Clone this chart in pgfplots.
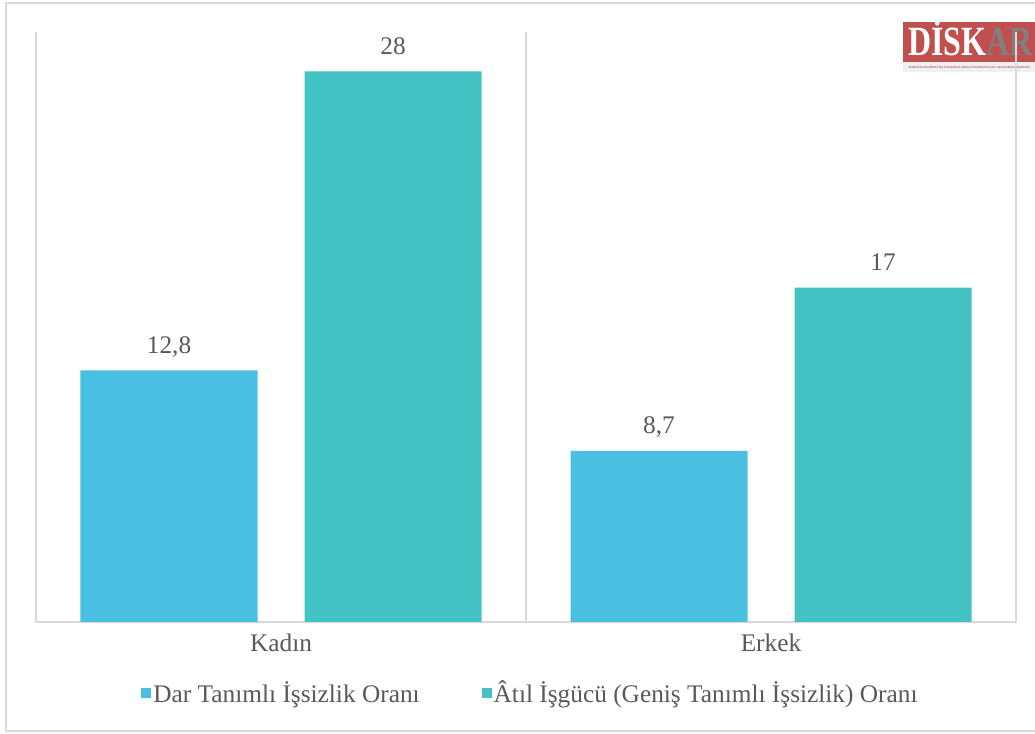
\documentclass[border=0pt]{standalone}
\usepackage{fontspec}
\setmainfont{Liberation Serif}
\usepackage{pgfplots}
\pgfplotsset{compat=1.18}
\definecolor{barblue}{RGB}{73,192,225}
\definecolor{barteal}{RGB}{67,195,196}
\definecolor{gridgray}{RGB}{217,217,217}
\definecolor{txtgray}{RGB}{89,89,89}
\definecolor{logored}{RGB}{192,80,77}
\definecolor{logogray}{RGB}{128,128,128}

\begin{document}
\begin{tikzpicture}
\useasboundingbox (0,0) rectangle (776.25pt,550.5pt);
% outer frame
\draw[gridgray, line width=1.5pt] (4.5pt,2.25pt) rectangle (800pt,548.25pt);
% logo
\fill[logored] (677.25pt,504pt) rectangle (800pt,534pt);
\fill[gray!12] (677.25pt,496.5pt) rectangle (800pt,504pt);
\node[anchor=base west, inner sep=0pt, text=white, yscale=1.3,
      font=\fontsize{24}{24}\selectfont\bfseries] at (681pt,508.5pt) {DİSK\textcolor{logogray}{AR}};
\node[anchor=west, inner sep=0pt, text=logored,
      font=\fontsize{2.2}{3}\selectfont\bfseries] at (681pt,500pt)
      {TÜRKİYE DEVRİMCİ İŞÇİ SENDİKALARI KONFEDERASYONU ARAŞTIRMA MERKEZİ};

\begin{axis}[
  at={(27pt,84pt)}, anchor=south west,
  scale only axis, width=735pt, height=442.5pt,
  xmin=-0.5, xmax=1.5, ymin=0, ymax=30,
  ybar=35.25pt, bar width=132.75pt,
  xtick={0,1}, xticklabels={Kadın,Erkek},
  major tick length=0pt,
  ytick=\empty,
  extra x ticks={-0.5,0.5,1.5}, extra x tick labels={},
  extra x tick style={grid=major, major grid style={gridgray, line width=1.5pt}},
  axis x line*=bottom, axis y line=none,
  x axis line style={gridgray, line width=1.5pt, -},
  xticklabel style={font=\fontsize{19}{23}\selectfont, text=txtgray, inner sep=0pt, yshift=-9pt},
  /pgf/number format/.cd, use comma, 1000 sep={}, assume math mode=true,
  /pgfplots/.cd,
  nodes near coords,
  every node near coord/.append style={font=\fontsize{19}{23}\selectfont, text=txtgray,
      anchor=base, inner sep=0pt, yshift=12.75pt},
  legend image code/.code={\fill[#1] (0pt,-4pt) rectangle (7.5pt,3.5pt);},
  legend columns=2,
  legend style={at={(rel axis cs:0.5046,-0.1203)}, anchor=center, draw=none, fill=none,
      font=\fontsize{19}{23}\selectfont, text=txtgray,
      nodes={inner sep=1.5pt},
      /tikz/every even column/.append style={column sep=45pt}},
]
\addplot[fill=barblue, draw=none] coordinates {(0,12.8) (1,8.7)};
\addplot[fill=barteal, draw=none] coordinates {(0,28) (1,17)};
\legend{Dar Tanımlı İşsizlik Oranı, Âtıl İşgücü (Geniş Tanımlı İşsizlik) Oranı}
\end{axis}
\end{tikzpicture}
\end{document}
